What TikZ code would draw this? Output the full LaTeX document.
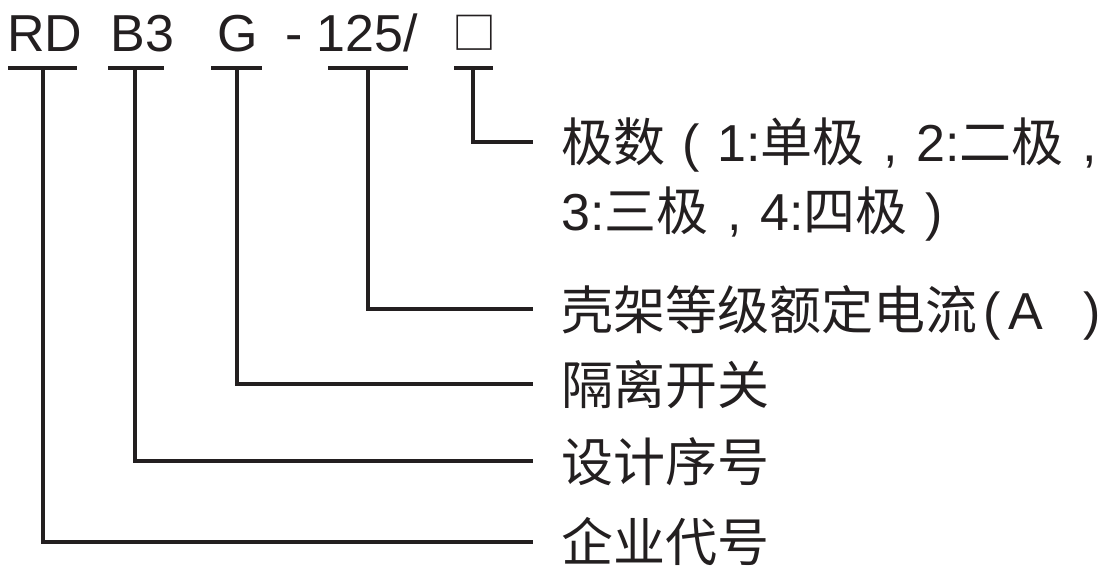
\documentclass[tikz,border=0pt]{standalone}
\usepackage{fontspec}
\setmainfont{Liberation Sans}
\newfontfamily\cjk{Noto Sans CJK SC}
\definecolor{ink}{RGB}{35,31,32}
\newcommand{\fwl}{\makebox[1em][c]{(}}
\newcommand{\fwr}{\makebox[1em][c]{)}}
\newcommand{\fwc}{\makebox[1em][c]{,}}
\tikzset{
  code/.style={anchor=base, inner sep=0pt, font=\fontsize{52}{60}\selectfont, text=ink},
  boxcode/.style={anchor=center, inner sep=0pt, font=\cjk\fontsize{44}{50}\selectfont, text=ink},
  lab/.style={anchor=base west, inner sep=0pt, font=\fontsize{52}{60}\selectfont, text=ink},
  lead/.style={draw=ink, line width=4.5pt},
}
\begin{document}
\begin{tikzpicture}[x=1pt,y=1pt]
\useasboundingbox (0,0) rectangle (1099,566);
% code parts
\node[code] (rd) at (45,514) {RD};
\node[code] (b3) at (142.5,514) {B3};
\node[code] (g) at (237.5,514) {G};
\node[code] (dash) at (294.5,514) {-};
\node[code] (cur) at (367.5,514) {125/};
\node[boxcode] (pole) at (474.5,533.5) {□};
% labels
\node[lab] (l1) at (561,404) {{\cjk 极数}\fwl 1:{\cjk 单极}\fwc 2:{\cjk 二极}\rlap{\fwc}};
\node[lab] (l2) at (561,336) {3:{\cjk 三极}\fwc 4:{\cjk 四极}\fwr};
\node[lab] (l3) at (561,237) {{\cjk 壳架等级额定电流}\hspace{6pt}(\hspace{-6pt} A\hspace{40pt}\rlap{)}};
\node[lab] (l4) at (561,162) {\cjk 隔离开关};
\node[lab] (l5) at (561,85) {\cjk 设计序号};
\node[lab] (l6) at (561,5) {\cjk 企业代号};
% underline coordinates
\coordinate (rdL) at (8,498);   \coordinate (rdR) at (77,498);  \coordinate (rdM) at (43,498);
\coordinate (b3L) at (108,498); \coordinate (b3R) at (164,498); \coordinate (b3M) at (135,498);
\coordinate (gL) at (211,498);  \coordinate (gR) at (262,498);  \coordinate (gM) at (237,498);
\coordinate (cL) at (328,498);  \coordinate (cR) at (408,498);  \coordinate (cM) at (368,498);
\coordinate (pL) at (454,498);  \coordinate (pR) at (493,498);  \coordinate (pM) at (473,498);
% leader ends
\coordinate (e1) at (533,424);
\coordinate (e3) at (533,257);
\coordinate (e4) at (533,182);
\coordinate (e5) at (533,105);
\coordinate (e6) at (533,24);
% underlines
\draw[lead] (rdL) -- (rdR);
\draw[lead] (b3L) -- (b3R);
\draw[lead] (gL) -- (gR);
\draw[lead] (cL) -- (cR);
\draw[lead] (pL) -- (pR);
% leaders
\draw[lead] (rdM) |- (e6);
\draw[lead] (b3M) |- (e5);
\draw[lead] (gM) |- (e4);
\draw[lead] (cM) |- (e3);
\draw[lead] (pM) |- (e1);
\end{tikzpicture}
\end{document}
